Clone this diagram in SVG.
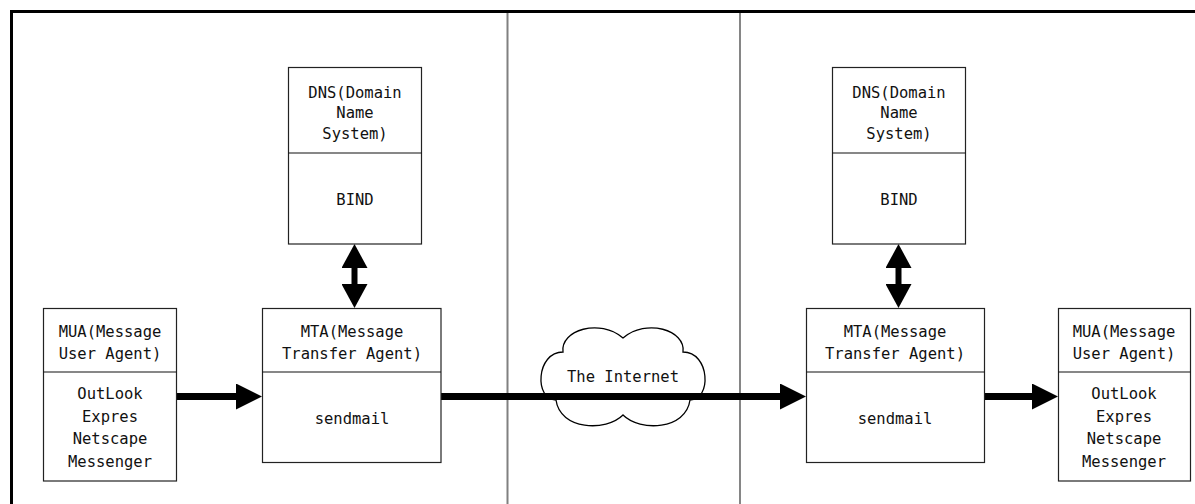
<svg xmlns="http://www.w3.org/2000/svg" width="1195" height="504" viewBox="0 0 1195 504">
<style>
.box{fill:#fff;stroke:#222;stroke-width:1.2}
.div{stroke:#111;stroke-width:1.2}
text{font-family:"DejaVu Sans Mono","Liberation Mono",monospace;font-size:15.5px;fill:#111;text-anchor:middle}
.shaft{stroke:#000;stroke-width:7;fill:none}
.vshaft{stroke:#000;stroke-width:6;fill:none}
</style>
<defs>
<marker id="ah" markerUnits="userSpaceOnUse" markerWidth="26" markerHeight="26" viewBox="0 0 26 26" refX="2" refY="13" orient="auto">
<path d="M0,0 L26,13 L0,26 Z" fill="#000"/>
</marker>
<marker id="ahv" markerUnits="userSpaceOnUse" markerWidth="24" markerHeight="26" viewBox="0 0 24 26" refX="2" refY="13" orient="auto-start-reverse">
<path d="M0,0 L24,13 L0,26 Z" fill="#000"/>
</marker>
</defs>
<rect width="1195" height="504" fill="#fff"/>
<g id="frame">
<path d="M11.5 504 V11.5 H1195" fill="none" stroke="#000" stroke-width="3"/>
<line x1="507.5" y1="13" x2="507.5" y2="504" stroke="#808080" stroke-width="2"/>
<line x1="740" y1="13" x2="740" y2="504" stroke="#444" stroke-width="1.3"/>
</g>
<g id="cloud">
<path d="M563 352 C560 330 600 318 623 338 C646 318 686 330 683 352 C710 352 712 400 690 400 C686 430 640 432 623 415 C606 432 560 430 556 400 C534 400 536 352 563 352 Z" fill="#fff" stroke="#000" stroke-width="1.3"/>
</g>
<g id="connectors">
<line class="shaft" x1="176" y1="396.5" x2="238" y2="396.5" marker-end="url(#ah)"/>
<line class="shaft" x1="441" y1="396.5" x2="782" y2="396.5" marker-end="url(#ah)"/>
<line class="shaft" x1="984" y1="396.5" x2="1034" y2="396.5" marker-end="url(#ah)"/>
<line class="vshaft" x1="354.5" y1="266" x2="354.5" y2="286" marker-start="url(#ahv)" marker-end="url(#ahv)"/>
<line class="vshaft" x1="898.5" y1="266" x2="898.5" y2="286" marker-start="url(#ahv)" marker-end="url(#ahv)"/>
</g>
<g id="cloud-label">
<text x="623" y="382">The Internet</text>
</g>
<g id="dns-left">
<rect class="box" x="288.5" y="67.5" width="133" height="176.5"/>
<line class="div" x1="288.5" y1="153" x2="421.5" y2="153"/>
<text x="355" y="98">DNS(Domain</text>
<text x="355" y="118">Name</text>
<text x="355" y="139">System)</text>
<text x="355" y="205">BIND</text>
</g>
<g id="dns-right">
<rect class="box" x="832.5" y="67.5" width="133" height="176.5"/>
<line class="div" x1="832.5" y1="153" x2="965.5" y2="153"/>
<text x="899" y="98">DNS(Domain</text>
<text x="899" y="118">Name</text>
<text x="899" y="139">System)</text>
<text x="899" y="205">BIND</text>
</g>
<g id="mua-left">
<rect class="box" x="43.5" y="308.5" width="133" height="172.5"/>
<line class="div" x1="43.5" y1="372" x2="176.5" y2="372"/>
<text x="110" y="337">MUA(Message</text>
<text x="110" y="359">User Agent)</text>
<text x="110" y="399">OutLook</text>
<text x="110" y="422">Expres</text>
<text x="110" y="444">Netscape</text>
<text x="110" y="467">Messenger</text>
</g>
<g id="mta-left">
<rect class="box" x="262.5" y="308.5" width="178.5" height="154"/>
<line class="div" x1="262.5" y1="372" x2="441" y2="372"/>
<text x="352" y="337">MTA(Message</text>
<text x="352" y="359">Transfer Agent)</text>
<text x="352" y="424">sendmail</text>
</g>
<g id="mta-right">
<rect class="box" x="806.5" y="308.5" width="178" height="154"/>
<line class="div" x1="806.5" y1="372" x2="984.5" y2="372"/>
<text x="895" y="337">MTA(Message</text>
<text x="895" y="359">Transfer Agent)</text>
<text x="895" y="424">sendmail</text>
</g>
<g id="mua-right">
<rect class="box" x="1058.5" y="308.5" width="132" height="172.5"/>
<line class="div" x1="1058.5" y1="372" x2="1190.5" y2="372"/>
<text x="1124" y="337">MUA(Message</text>
<text x="1124" y="359">User Agent)</text>
<text x="1124" y="399">OutLook</text>
<text x="1124" y="422">Expres</text>
<text x="1124" y="444">Netscape</text>
<text x="1124" y="467">Messenger</text>
</g>
</svg>
